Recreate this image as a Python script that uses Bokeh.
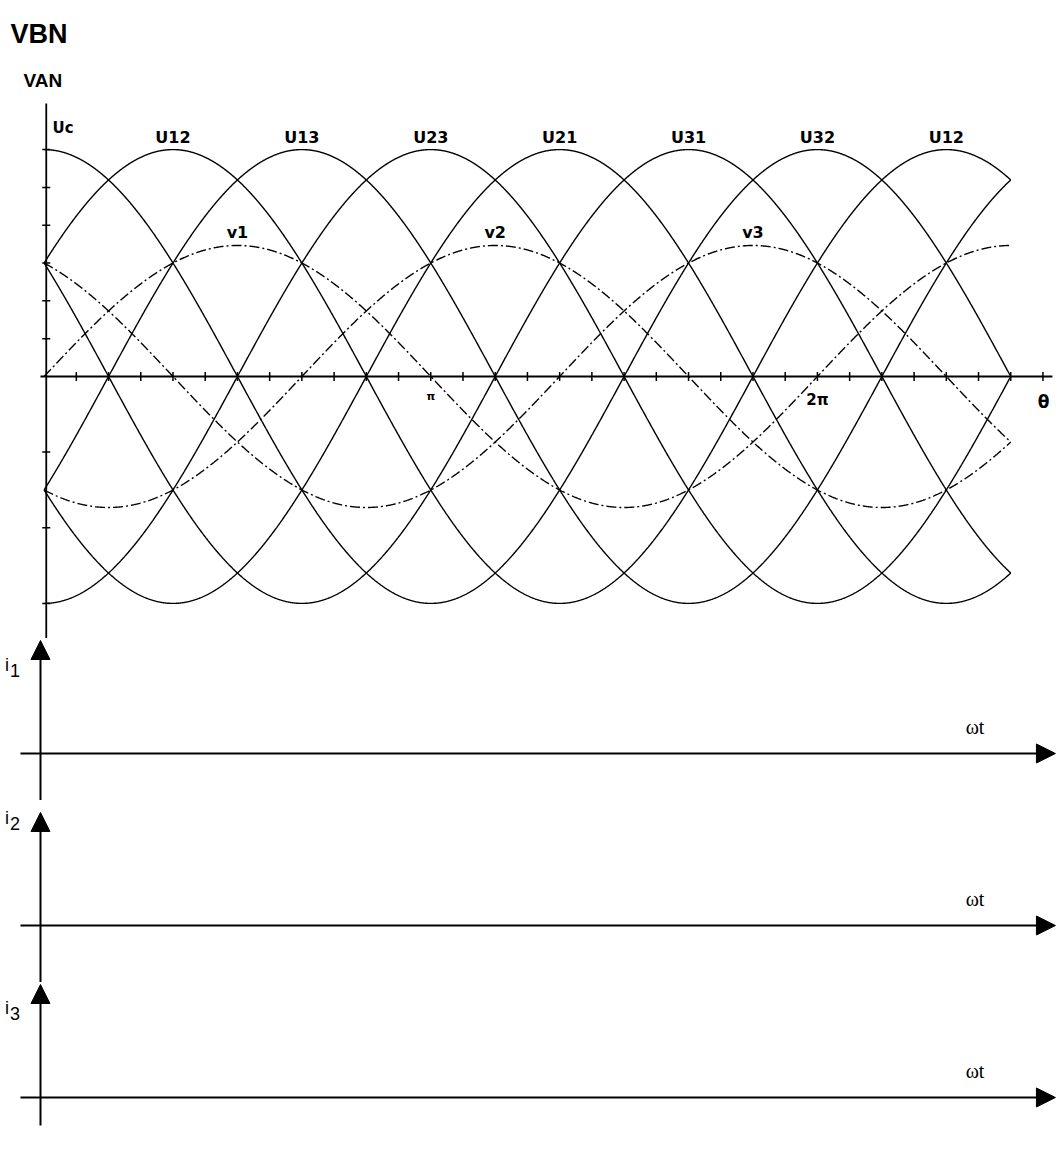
import numpy as np
from bokeh.plotting import figure
from bokeh.layouts import column
from bokeh.models import Range1d, Arrow, NormalHead
from bokeh.core.properties import value
from bokeh.embed import file_html
from bokeh.resources import INLINE

# ---------------- data ----------------
theta_start_deg = 0
theta_end_deg = 450

line_names = ["U12", "U13", "U23", "U21", "U31", "U32"]
line_phase_deg = [30, -30, -90, -150, -210, -270]
line_amp = np.sqrt(3)

phase_names = ["v1", "v2", "v3"]
phase_phase_deg = [0, -120, -240]
phase_amp = 1.0

line_label_text = ["U12", "U13", "U23", "U21", "U31", "U32", "U12"]
line_label_deg = [60, 120, 180, 240, 300, 360, 420]
phase_label_text = ["v1", "v2", "v3"]
phase_label_deg = [90, 210, 330]

x_ticks_deg = list(range(15, 466, 15))
x_tick_label_deg = [180, 360]
x_tick_label_text = ["π", "2π"]
y_ticks = [k * np.sqrt(3) / 6 for k in range(1, 7)] + [-k * np.sqrt(3) / 3 for k in range(1, 4)]

current_sub = ["1", "2", "3"]
current_heights = [162, 182, 173]
current_axis_off = [115, 125, 115]
current_label_y = [0.779, 0.947, 0.788]

# ---------------- top figure ----------------
XL, XR = -20.30, 471.3
top = figure(width=1056, height=638, output_backend="svg", toolbar_location=None,
             x_range=Range1d(XL, XR), y_range=Range1d(-2.0, 2.870),
             x_axis_location=None, y_axis_location=None, min_border=0,
             outline_line_color=None, background_fill_color="white",
             border_fill_color="white")
top.xgrid.visible = False
top.ygrid.visible = False

theta = np.linspace(theta_start_deg, theta_end_deg, 1801)
for name, ph in zip(line_names, line_phase_deg):
    top.line(theta, line_amp * np.sin(np.radians(theta + ph)), line_color="black",
             line_width=1.4)
for name, ph in zip(phase_names, phase_phase_deg):
    top.line(theta, phase_amp * np.sin(np.radians(theta + ph)), line_color="black",
             line_width=1.4, line_dash="10 3 2 3")

# axes
top.line([-1.7, 469.4], [0, 0], line_color="black", line_width=1.8)
top.line([1, 1], [-2.0, 2.084], line_color="black", line_width=1.8)
top.scatter(x_ticks_deg, [0] * len(x_ticks_deg), marker="dash", angle=np.pi / 2,
            size=9, line_color="black", line_width=1.5)
top.scatter([1] * len(y_ticks), y_ticks, marker="dash", size=8,
            line_color="black", line_width=1.5)

bold = dict(text_font=value("DejaVu Sans"), text_font_style="bold", text_color="black")
top.text(x=line_label_deg, y=[line_amp] * len(line_label_deg), text=line_label_text,
         text_align="center", text_baseline="bottom", y_offset=-3,
         text_font_size="16px", **bold)
top.text(x=phase_label_deg, y=[phase_amp] * len(phase_label_deg), text=phase_label_text,
         text_align="center", text_baseline="bottom", y_offset=-3,
         text_font_size="16px", **bold)
top.text(x=[x_tick_label_deg[0]], y=[0], text=[x_tick_label_text[0]], text_align="center",
         text_baseline="top", y_offset=14, text_font_size="11px", **bold)
top.text(x=[x_tick_label_deg[1]], y=[0], text=[x_tick_label_text[1]], text_align="center",
         text_baseline="top", y_offset=15, text_font_size="15px", **bold)
top.text(x=[465.3], y=[0], text=["θ"], text_align="center", text_baseline="top",
         y_offset=16, text_font_size="17px", **bold)
top.text(x=[3.9], y=[1.893], text=["Uc"], text_align="left", text_baseline="alphabetic",
         text_font_size="15px", **bold)
top.text(x=[-15.6], y=[2.618], text=["VBN"], text_align="left", text_baseline="alphabetic",
         text_font_size="27px", text_font=value("Liberation Sans"), text_font_style="bold",
         text_color="black")
top.text(x=[-9.6], y=[2.26], text=["VAN"], text_align="left", text_baseline="alphabetic",
         text_font_size="19px", text_font=value("Liberation Sans"), text_font_style="bold",
         text_color="black")

# ---------------- current panels ----------------
figs = [top]
for sub, h, off, ly in zip(current_sub, current_heights, current_axis_off, current_label_y):
    ytop = off / 113
    ybot = -(h - off) / 113
    f = figure(width=1056, height=h, output_backend="svg", toolbar_location=None,
               x_range=Range1d(XL, XR), y_range=Range1d(ybot, ytop),
               x_axis_location=None, y_axis_location=None, min_border=0,
               outline_line_color=None, background_fill_color="white",
               border_fill_color="white")
    f.xgrid.visible = False
    f.ygrid.visible = False
    vend = ybot if sub != "3" else -0.248
    f.add_layout(Arrow(end=NormalHead(size=19, fill_color="black", line_color="black"),
                       x_start=-1.68, y_start=vend, x_end=-1.68, y_end=1.0,
                       line_color="black", line_width=2))
    f.add_layout(Arrow(end=NormalHead(size=19, fill_color="black", line_color="black"),
                       x_start=-11.0, y_start=0, x_end=470.8, y_end=0,
                       line_color="black", line_width=2))
    f.text(x=[429], y=[0.235], text=["ωt"], text_align="left", text_baseline="alphabetic",
           text_font=value("Liberation Serif"), text_font_size="20px", text_color="black")
    f.text(x=[-18.2], y=[ly], text=["i"], text_align="left", text_baseline="alphabetic",
           text_font=value("Liberation Sans"), text_font_size="18px", text_color="black")
    f.text(x=[-15.9], y=[ly - 0.044], text=[sub], text_align="left",
           text_baseline="alphabetic", text_font=value("Liberation Sans"),
           text_font_size="18px", text_color="black")
    figs.append(f)

layout = column(*figs, spacing=0)
open("out.html", "w").write(file_html(layout, INLINE))
